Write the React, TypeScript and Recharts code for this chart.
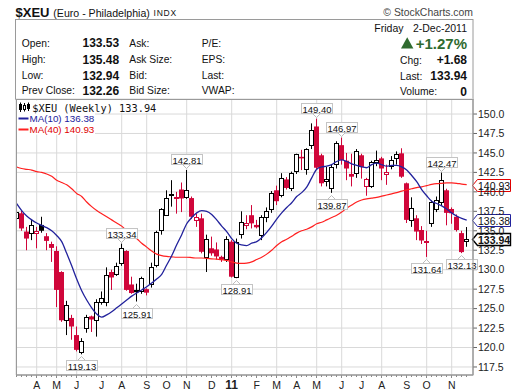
import React from "react";
import {
  ComposedChart,
  Bar,
  Line,
  XAxis,
  YAxis,
  CartesianGrid,
  ReferenceDot,
} from "recharts";

const FONT = "'Liberation Sans', Arial, Helvetica, sans-serif";
const MONO = "'DejaVu Sans Mono', monospace";
const RED = "#d0063a";
const GRID = "#d9d9d9";
const FRAME = "#9a9a9a";
const BLUE = "#22229c";
const MA_RED = "#ff2020";

// weekly bars, week of 8-Mar-2010 .. week of 28-Nov-2011
const opens = [
  136.6, 137.25, 134.9, 134.7, 134.55, 135.75, 134.3, 133.3, 132.4, 129.7,
  123.5, 123.8, 121.6, 119.4, 122.3, 124.0, 123.4, 125.7, 125.7, 129.7,
  129.3, 130.7, 132.4, 128.1, 127.4, 127.05, 127.5, 127.95, 130.5, 134.9,
  137.0, 139.5, 139.0, 140.3, 139.3, 139.2, 136.2, 136.6, 131.5, 132.75,
  132.6, 131.65, 131.3, 133.6, 129.0, 134.5, 135.6, 137.0, 135.75, 134.4,
  136.65, 137.7, 140.2, 139.5, 141.6, 140.3, 142.5, 144.5, 142.8, 146.0,
  148.4, 144.7, 141.2, 140.33, 143.5, 146.0, 144.0, 142.3, 142.2, 144.7,
  140.6, 140.7, 143.7, 144.3, 142.2, 143.25, 144.1, 144.95, 141.1, 136.2,
  136.6, 135.1, 133.55, 135.9, 137.7, 138.5, 140.2, 137.8, 136.8, 134.7,
  133.53,
];
const highs = [
  137.6, 137.6, 135.5, 136.4, 135.5, 136.8, 134.7, 133.6, 133.0, 129.8,
  126.0, 124.2, 122.7, 121.2, 124.2, 124.1, 126.2, 127.2, 130.3, 130.0,
  130.9, 133.34, 132.5, 129.1, 128.2, 129.1, 127.6, 130.9, 135.0, 137.9,
  140.2, 141.5, 140.0, 141.2, 142.81, 139.4, 137.2, 137.2, 134.5, 134.25,
  133.5, 131.8, 134.3, 133.8, 134.0, 137.5, 137.0, 138.3, 136.4, 137.0,
  138.0, 140.1, 140.8, 142.4, 141.9, 142.6, 144.9, 145.4, 145.6, 148.8,
  149.4, 144.9, 143.2, 143.5, 146.5, 146.97, 145.0, 144.9, 145.5, 144.9,
  141.8, 144.0, 145.3, 144.5, 143.5, 144.6, 145.2, 145.6, 141.2, 139.3,
  137.0, 135.6, 135.0, 138.9, 139.4, 142.47, 140.4, 138.0, 137.1, 135.0,
  135.48,
];
const lows = [
  136.5, 135.0, 132.5, 133.8, 132.75, 134.75, 132.5, 131.0, 125.2, 123.3,
  121.6, 121.0, 119.5, 119.13, 121.9, 122.0, 121.4, 125.5, 125.3, 127.4,
  129.2, 130.5, 127.3, 126.9, 125.91, 126.9, 126.7, 127.7, 130.3, 134.5,
  136.9, 138.1, 137.2, 137.4, 139.1, 136.5, 135.5, 132.1, 129.7, 131.8,
  131.3, 131.0, 131.0, 129.0, 128.91, 134.0, 135.2, 135.3, 135.3, 133.8,
  136.1, 137.3, 138.3, 139.3, 140.3, 140.1, 142.3, 142.8, 142.2, 145.5,
  142.9, 140.7, 140.7, 139.87, 143.0, 143.5, 141.5, 140.7, 141.8, 141.7,
  139.5, 140.5, 143.3, 141.5, 140.9, 142.9, 143.5, 141.8, 136.0, 135.5,
  133.8, 133.3, 131.64, 135.5, 137.4, 138.2, 135.7, 135.9, 134.9, 132.13,
  132.94,
];
const closes = [
  137.45, 135.3, 134.0, 135.8, 134.95, 135.0, 133.7, 132.8, 127.4, 123.5,
  125.5, 122.7, 119.7, 120.9, 123.9, 123.6, 125.8, 126.3, 129.3, 129.0,
  130.5, 132.75, 127.4, 127.0, 127.1, 128.9, 127.05, 130.3, 134.9, 137.75,
  139.25, 139.7, 139.3, 139.15, 140.3, 136.8, 136.75, 132.3, 134.0, 132.1,
  131.7, 131.3, 134.0, 129.1, 133.6, 136.15, 136.0, 135.95, 135.45, 136.8,
  137.5, 139.9, 138.8, 141.75, 140.5, 142.4, 144.8, 144.3, 145.45, 148.0,
  143.1, 141.1, 141.6, 143.2, 146.3, 144.1, 143.0, 141.95, 145.2, 143.2,
  141.6, 143.9, 144.1, 143.0, 142.6, 144.1, 144.8, 141.95, 136.4, 137.9,
  134.9, 133.75, 133.7, 138.7, 138.95, 141.5, 137.3, 137.25, 135.1, 132.26,
  133.94,
];
const ma10 = [
  138.5, 137.6, 136.9, 136.4, 136.0, 135.7, 135.4, 135.0, 134.4, 133.6,
  132.1, 130.5, 128.8, 127.3, 126.1, 125.1, 124.3, 123.9, 124.2, 124.6,
  125.1, 125.6, 126.1, 126.6, 127.0, 127.4, 127.8, 128.3, 128.8, 129.4,
  130.6, 131.8, 133.2, 134.5, 135.9, 136.7, 137.3, 137.6, 137.5, 137.1,
  136.4, 135.6, 134.9, 134.0, 133.4, 133.2, 133.1, 133.4, 133.6, 134.1,
  134.8, 135.6, 136.5, 137.3, 138.0, 138.6, 139.4, 139.9, 140.6, 141.8,
  142.9, 143.2, 143.3, 143.5, 143.9, 144.1, 143.9, 143.6, 143.4, 143.2,
  143.1, 143.5, 143.7, 143.5, 143.3, 143.4, 143.4, 143.2, 142.8, 142.1,
  141.3, 140.3, 139.5, 138.8, 138.5, 138.2, 137.8, 137.3, 136.9, 136.6,
  136.38,
];
const ma40 = [
  143.2, 143.0, 142.9, 142.8, 142.6, 142.5, 142.3, 142.0, 141.5, 141.2,
  140.9, 140.4, 139.8, 139.4, 138.7, 138.1, 137.6, 137.2, 136.8, 136.4,
  136.0, 135.6, 135.0, 134.5, 134.0, 133.4, 132.9, 132.4, 132.0, 131.8,
  131.7, 131.65, 131.6, 131.6, 131.6, 131.55, 131.5, 131.5, 131.45, 131.4,
  131.35, 131.3, 131.2, 131.0, 130.85, 130.8, 130.85, 131.0, 131.3, 131.6,
  132.0, 132.5, 133.1, 133.6, 133.9, 134.3, 134.7, 135.0, 135.2, 135.5,
  135.9, 136.1, 136.4, 136.7, 137.0, 137.4, 137.9, 138.3, 138.7, 138.95,
  139.1, 139.2, 139.3, 139.45, 139.6, 139.75, 139.9, 140.1, 140.25, 140.4,
  140.55, 140.65, 140.8, 140.95, 141.05, 141.1, 141.15, 141.15, 141.1, 141.0,
  140.93,
];

// first weekly bar of each month (bar index) and its label
const monthTicks = [4, 8, 12, 17, 21, 26, 30, 34, 39, 43, 48, 52, 56, 60, 65, 69, 73, 78, 82, 87];
const monthLabels = ["A", "M", "J", "J", "A", "S", "O", "N", "D", "11", "F", "M", "A", "M", "J", "J", "A", "S", "O", "N"];
const priceTicks = [117.5, 120, 122.5, 125, 127.5, 130, 132.5, 135, 137.5, 140, 142.5, 145, 147.5, 150];

// bars whose high / low carries a value box
const highLabels = [21, 34, 60, 65, 85];
const lowLabels = [13, 24, 44, 63, 82, 89];

const X_MIN = -0.14;
const X_MAX = 91.26;
const Y_MIN = 116.47;
const Y_MAX = 151.93;

const rows = closes.map((c, i) => ({
  i,
  open: opens[i],
  high: highs[i],
  low: lows[i],
  close: c,
  prev: i > 0 ? closes[i - 1] : null,
  range: [lows[i], highs[i]],
  ma10: ma10[i],
  ma40: ma40[i],
}));

const weeks = rows.map((r) => r.i);
const last = rows[rows.length - 1];
const chg = last.close - (last.prev as number);

const Candle = (props: any) => {
  const { x, y, width, height, payload } = props;
  if (!payload) return null;
  const { open, close, high, low, prev } = payload;
  const top = Math.min(y, y + height);
  const k = Math.abs(height) / (high - low);
  const py = (v: number) => top + (high - v) * k;
  const cx = Math.floor(x + width / 2) + 0.5;
  const color = prev === null || close >= prev ? "#000" : RED;
  const hollow = close > open;
  const yTop = py(Math.max(open, close));
  const bh = Math.max(py(Math.min(open, close)) - yTop, 1);
  return (
    <g>
      <line x1={cx} x2={cx} y1={py(high)} y2={py(low)} stroke={color} strokeWidth={1} />
      {hollow ? (
        <rect
          x={cx - 2}
          y={Math.round(yTop) + 0.5}
          width={4}
          height={Math.max(Math.round(bh) - 1, 1)}
          fill="#fff"
          stroke={color}
          strokeWidth={1}
        />
      ) : (
        <rect x={cx - 2.5} y={yTop} width={5} height={bh} fill={color} />
      )}
    </g>
  );
};

const MarkLabel = ({ cx, cy, text, above }: any) => {
  const w = 31;
  const h = 10;
  const gap = 6;
  const bx = Math.round(cx - w / 2) + 0.5;
  const by = above ? Math.round(cy - gap - h) + 0.5 : Math.round(cy + gap) + 0.5;
  const edge = above ? by + h : by;
  const tip = above ? edge + 4 : edge - 4;
  const px = Math.floor(cx) + 0.5;
  return (
    <g>
      <polygon points={`${px - 4},${edge} ${px},${tip} ${px + 4},${edge}`} fill="#fff" stroke="#bdbdbd" />
      <rect x={bx} y={by} width={w} height={h} fill="#fff" stroke="#c4c4c4" />
      <text
        x={bx + w / 2}
        y={by + h / 2 + 0.5}
        textAnchor="middle"
        dominantBaseline="central"
        fontSize={9.5}
        fontFamily={FONT}
        fill="#111"
      >
        {text}
      </text>
    </g>
  );
};

const PriceTag = ({ cx, cy, text, color, bold }: any) => {
  const y = Math.round(cy) + 0.5;
  const x0 = Math.round(cx) - 0.5;
  const pts = `${x0},${y} ${x0 + 5},${y - 6} ${x0 + 38},${y - 6} ${x0 + 38},${y + 6} ${x0 + 5},${y + 6}`;
  return (
    <g>
      <polygon points={pts} fill="#fff" stroke={color} strokeWidth={bold ? 1.4 : 1} />
      <text
        x={x0 + 5.5}
        y={y + 0.5}
        dominantBaseline="central"
        fontSize={10.5}
        fontWeight={bold ? "bold" : "normal"}
        fontFamily={FONT}
        fill="#111"
      >
        {text}
      </text>
    </g>
  );
};

const WeekTick = (props: any) => {
  const { x, y, payload } = props;
  const k = monthTicks.indexOf(payload.value);
  const px = Math.floor(x) + 0.5;
  return (
    <g>
      <line x1={px} x2={px} y1={y} y2={y + (k >= 0 ? 3 : 2)} stroke="#8a8a8a" />
      {k >= 0 && (
        <text
          x={x}
          y={y + 9.5}
          textAnchor="middle"
          dominantBaseline="central"
          fontSize={monthLabels[k] === "11" ? 12 : 10.5}
          fontWeight={monthLabels[k] === "11" ? "bold" : "normal"}
          fontFamily={FONT}
          fill="#222"
        >
          {monthLabels[k]}
        </text>
      )}
    </g>
  );
};

const Header = () => {
  const rowsY = [43.3, 59.9, 75.8, 90.8];
  const left = ["Open:", "High:", "Low:", "Prev Close:"];
  const vals = [last.open, last.high, last.low, last.prev as number];
  const mid = ["Ask:", "Ask Size:", "Bid:", "Bid Size:"];
  const right = ["P/E:", "EPS:", "Last:", "VWAP:"];
  const t = { fontFamily: FONT, dominantBaseline: "central" as const, fill: "#111" };
  return (
    <svg width={520} height={391} style={{ position: "absolute", left: 0, top: 0 }}>
      <text x={15.5} y={12.5} fontSize={13} fontWeight="bold" {...t}>$XEU</text>
      <text x={53.3} y={12.5} fontSize={10.6} {...t}>(Euro - Philadelphia)</text>
      <text x={153.5} y={13} fontSize={8.5} letterSpacing={0.8} {...t}>INDX</text>
      <text x={473} y={12.3} fontSize={10.4} textAnchor="end" {...t} fill="#444">© StockCharts.com</text>

      <rect x={15.5} y={19.5} width={457.5} height={80} fill="none" stroke={FRAME} />

      {left.map((s, k) => (
        <text key={s} x={21.7} y={rowsY[k]} fontSize={10.3} {...t}>{s}</text>
      ))}
      {vals.map((v, k) => (
        <text key={k} x={82.5} y={rowsY[k]} fontSize={12} fontWeight="bold" {...t}>{v.toFixed(2)}</text>
      ))}
      {mid.map((s, k) => (
        <text key={s} x={129.3} y={rowsY[k]} fontSize={10.3} {...t}>{s}</text>
      ))}
      {right.map((s, k) => (
        <text key={s} x={201.7} y={rowsY[k]} fontSize={10.3} {...t}>{s}</text>
      ))}

      <text x={374.3} y={28.3} fontSize={10.5} {...t}>Friday</text>
      <text x={467} y={28.3} fontSize={10.5} textAnchor="end" {...t}>2-Dec-2011</text>
      <polygon points="401,48.5 407.2,37.3 413.4,48.5" fill="#2f6b2f" />
      <text x={467} y={43.3} fontSize={15} fontWeight="bold" textAnchor="end" {...t} fill="#2f6b2f">
        {`+${((chg / (last.prev as number)) * 100).toFixed(2)}%`}
      </text>
      <text x={400} y={60} fontSize={10.3} {...t}>Chg:</text>
      <text x={467} y={60} fontSize={12} fontWeight="bold" textAnchor="end" {...t}>{`+${chg.toFixed(2)}`}</text>
      <text x={400} y={76} fontSize={10.3} {...t}>Last:</text>
      <text x={467} y={76} fontSize={12} fontWeight="bold" textAnchor="end" {...t}>{last.close.toFixed(2)}</text>
      <text x={400} y={91.5} fontSize={10.3} {...t}>Volume:</text>
      <text x={467} y={91.5} fontSize={12} fontWeight="bold" textAnchor="end" {...t}>0</text>
    </svg>
  );
};

const PlotLegend = () => (
  <svg width={520} height={391} style={{ position: "absolute", left: 0, top: 0 }}>
    <rect x={17} y={100.5} width={141} height={12} fill="#fff" />
    <rect x={17} y={112.5} width={78} height={22} fill="#fff" />
    <line x1={20.5} x2={20.5} y1={102.5} y2={112} stroke="#000" />
    <rect x={19} y={104} width={3} height={6} fill="#000" />
    <line x1={24.5} x2={24.5} y1={103} y2={111.5} stroke="#000" />
    <rect x={23.5} y={105.5} width={2} height={4} fill="#fff" stroke="#000" />
    <line x1={28.5} x2={28.5} y1={102.5} y2={111} stroke="#000" />
    <rect x={27} y={104} width={3} height={5} fill="#000" />
    <text x={32.3} y={107.7} fontSize={10.3} fontFamily={MONO} dominantBaseline="central" fill="#111">
      {`$XEU (Weekly) ${last.close.toFixed(2)}`}
    </text>
    <line x1={18.5} x2={28.5} y1={118.5} y2={118.5} stroke={BLUE} strokeWidth={2} />
    <text x={29.5} y={118.3} fontSize={9.8} fontFamily={FONT} dominantBaseline="central" fill={BLUE}>
      {`MA(10) ${last.ma10.toFixed(2)}`}
    </text>
    <line x1={18.5} x2={28.5} y1={129.5} y2={129.5} stroke={MA_RED} strokeWidth={2} />
    <text x={29.5} y={129.3} fontSize={9.8} fontFamily={FONT} dominantBaseline="central" fill="#e00000">
      {`MA(40) ${last.ma40.toFixed(2)}`}
    </text>
    <rect x={16.5} y={99.5} width={456.5} height={275.5} fill="none" stroke={FRAME} />
  </svg>
);

export default function App() {
  return (
    <div style={{ position: "absolute", left: 0, top: 0, width: 520, height: 391, background: "#fff", overflow: "hidden" }}>
      <Header />
      <div style={{ position: "absolute", left: 0, top: 0 }}>
        <ComposedChart width={520} height={391} data={rows} margin={{ top: 99, right: 0, bottom: 0, left: 16 }}>
          <XAxis xAxisId="m" dataKey="i" type="number" domain={[X_MIN, X_MAX]} allowDataOverflow ticks={monthTicks} hide />
          <CartesianGrid xAxisId="m" stroke={GRID} />
          <XAxis
            dataKey="i"
            type="number"
            domain={[X_MIN, X_MAX]}
            allowDataOverflow
            ticks={weeks}
            interval={0}
            height={16}
            tickSize={0}
            tickMargin={0}
            tickLine={false}
            axisLine={{ stroke: FRAME }}
            tick={(p: any) => <WeekTick {...p} />}
          />
          <YAxis
            orientation="right"
            type="number"
            domain={[Y_MIN, Y_MAX]}
            allowDataOverflow
            ticks={priceTicks}
            interval={0}
            width={47}
            tickSize={4}
            tickMargin={1}
            axisLine={{ stroke: FRAME }}
            tickLine={{ stroke: "#666" }}
            tick={{ fontSize: 10.5, fill: "#222", fontFamily: FONT }}
            tickFormatter={(v: number) => v.toFixed(1)}
          />
          <Bar dataKey="range" barSize={4} isAnimationActive={false} shape={(p: any) => <Candle {...p} />} />
          <Line type="monotone" dataKey="ma40" stroke={MA_RED} strokeWidth={1.2} dot={false} activeDot={false} isAnimationActive={false} />
          <Line type="monotone" dataKey="ma10" stroke={BLUE} strokeWidth={1.3} dot={false} activeDot={false} isAnimationActive={false} />
          {highLabels.map((i) => (
            <ReferenceDot
              key={`h${i}`}
              x={i}
              y={highs[i]}
              ifOverflow="visible"
              shape={(p: any) => <MarkLabel {...p} text={highs[i].toFixed(2)} above />}
            />
          ))}
          {lowLabels.map((i) => (
            <ReferenceDot
              key={`l${i}`}
              x={i}
              y={lows[i]}
              ifOverflow="visible"
              shape={(p: any) => <MarkLabel {...p} text={lows[i].toFixed(2)} />}
            />
          ))}
          <ReferenceDot x={X_MAX} y={last.ma40} ifOverflow="visible"
            shape={(p: any) => <PriceTag {...p} text={last.ma40.toFixed(2)} color="#e00000" />} />
          <ReferenceDot x={X_MAX} y={last.ma10} ifOverflow="visible"
            shape={(p: any) => <PriceTag {...p} text={last.ma10.toFixed(2)} color={BLUE} />} />
          <ReferenceDot x={X_MAX} y={last.close} ifOverflow="visible"
            shape={(p: any) => <PriceTag {...p} text={last.close.toFixed(2)} color="#000" bold />} />
        </ComposedChart>
      </div>
      <PlotLegend />
    </div>
  );
}
